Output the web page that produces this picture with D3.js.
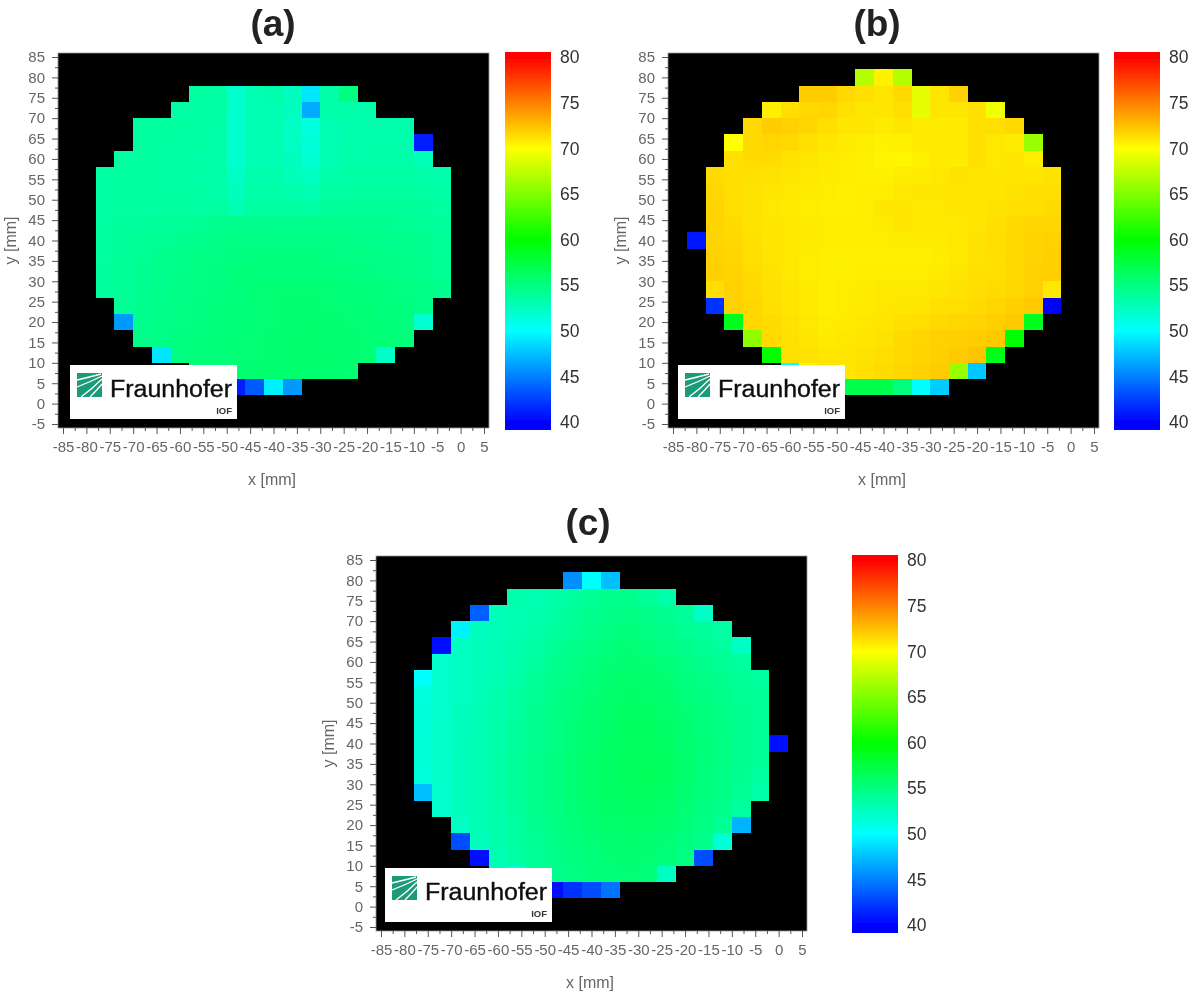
<!DOCTYPE html>
<html>
<head>
<meta charset="utf-8">
<script src="https://cdn.jsdelivr.net/npm/d3@7"></script>
<style>
  html, body { margin: 0; background: #fff; }
  text { font-family: "Liberation Sans", Arial, sans-serif; }
</style>
</head>
<body>
<div id="chart"></div>
<script>
// Cell centres in mm
const xCells = [-80, -76, -72, -68, -64, -60, -56, -52, -48, -44, -40, -36, -32, -28, -24, -20, -16, -12, -8, -4, 0];
const yCells = [80, 76, 72, 68, 64, 60, 56, 52, 48, 44, 40, 36, 32, 28, 24, 20, 16, 12, 8, 4];

const xTicks = [-85, -80, -75, -70, -65, -60, -55, -50, -45, -40, -35, -30, -25, -20, -15, -10, -5, 0, 5];
const yTicks = [85, 80, 75, 70, 65, 60, 55, 50, 45, 40, 35, 30, 25, 20, 15, 10, 5, 0, -5];
const barTicks = [80, 75, 70, 65, 60, 55, 50, 45, 40];

const colorStops = [40, 50, 60, 70, 80];
const colorNames = ["#0000ff", "#00ffff", "#00ff00", "#ffff00", "#ff0000"];

// Index in xCells of the first measured cell of each row (row order = yCells)
const startA = [0, 6, 5, 3, 3, 2, 1, 1, 1, 1, 1, 1, 1, 1, 2, 2, 3, 4, 6, 7];
const startB = [9, 6, 4, 3, 2, 2, 1, 1, 1, 1, 0, 1, 1, 1, 1, 2, 3, 4, 5, 7];
const startC = [9, 6, 4, 3, 2, 2, 1, 1, 1, 1, 1, 1, 1, 1, 2, 3, 3, 4, 5, 7];

const valuesA = [
  [],
  [53.8, 53.6, 52, 53, 53.2, 52.5, 49, 53.5, 55],
  [53.5, 53.6, 53.5, 52, 53, 53, 52.5, 46.7, 53.3, 53.4, 53.2],
  [53.8, 53.8, 53.7, 53.6, 53.5, 52, 53, 53, 52.3, 51.3, 53, 53.2, 53.2, 53.2, 53.2],
  [53.8, 53.8, 53.7, 53.6, 53.4, 52, 53, 53, 52.4, 51.5, 53, 53.2, 53.3, 53.3, 53.2, 41],
  [53.8, 53.8, 53.7, 53.6, 53.5, 53.4, 52, 53, 53, 52.5, 51.8, 53, 53.3, 53.4, 53.4, 53.4, 52.8],
  [53.7, 53.8, 53.8, 53.7, 53.6, 53.5, 53.4, 52.3, 53.2, 53.2, 52.8, 52.4, 53.3, 53.5, 53.6, 53.6, 53.6, 53.5, 53.3],
  [53.7, 53.8, 53.8, 53.8, 53.7, 53.6, 53.5, 52.6, 53.4, 53.4, 53.2, 53, 53.6, 53.8, 53.8, 53.8, 53.8, 53.7, 53.5],
  [53.7, 53.8, 53.8, 53.8, 53.8, 53.7, 53.7, 53, 53.8, 53.8, 53.7, 53.6, 53.9, 54, 54, 54, 54, 53.9, 53.7],
  [53.7, 53.9, 53.9, 54, 54, 54.2, 54.3, 54.4, 54.5, 54.4, 54.4, 54.5, 54.5, 54.4, 54.4, 54.3, 54.2, 54.1, 53.9],
  [53.8, 54, 54.1, 54.2, 54.4, 54.6, 54.7, 54.8, 54.9, 54.8, 54.8, 54.8, 54.8, 54.7, 54.6, 54.5, 54.4, 54.3, 54],
  [53.8, 54, 54.2, 54.4, 54.6, 54.8, 54.9, 55, 55.1, 55.1, 55.1, 55.1, 55, 54.9, 54.8, 54.7, 54.6, 54.4, 54.1],
  [53.9, 54.1, 54.3, 54.5, 54.7, 54.9, 55, 55.2, 55.3, 55.3, 55.3, 55.3, 55.2, 55.1, 55, 54.9, 54.7, 54.5, 54.2],
  [53.9, 54.1, 54.3, 54.5, 54.7, 54.9, 55, 55.2, 55.4, 55.5, 55.5, 55.5, 55.4, 55.3, 55.2, 55.1, 54.9, 54.7, 54.4],
  [54.2, 54.4, 54.6, 54.8, 55, 55.1, 55.3, 55.4, 55.5, 55.6, 55.6, 55.5, 55.4, 55.3, 55.1, 55, 54.8],
  [46, 54.5, 54.7, 54.9, 55, 55.2, 55.3, 55.4, 55.5, 55.6, 55.7, 55.6, 55.5, 55.4, 55.3, 55.1, 51.8],
  [54.6, 54.8, 55, 55.1, 55.3, 55.4, 55.5, 55.6, 55.7, 55.7, 55.6, 55.6, 55.5, 55.4, 55.2],
  [49, 55, 55.2, 55.3, 55.4, 55.5, 55.6, 55.7, 55.7, 55.7, 55.6, 55.5, 52.2],
  [55.3, 55.4, 55.5, 55.6, 55.7, 55.7, 55.7, 55.7, 55.5],
  [41, 41, 43.5, 49.5, 46]
];

const valuesB = [
  [67, 70.5, 67],
  [72, 72, 71.5, 71.3, 71, 71.5, 69, 71, 71.8],
  [70.6, 71.3, 71.5, 71.6, 71.2, 71, 71, 71.3, 69, 71, 71, 71.2, 69.5],
  [71.5, 72, 71.8, 71.6, 71.3, 71, 71, 70.8, 71, 70.8, 70.8, 70.8, 71.2, 71.3, 71.5],
  [70, 71.5, 71.6, 71.5, 71.2, 71, 70.8, 70.7, 70.5, 70.6, 70.8, 70.8, 70.8, 71.2, 70.9, 70.8, 66],
  [71.2, 71.4, 71.4, 71.1, 71, 70.8, 70.7, 70.6, 70.4, 70.4, 70.6, 70.8, 70.8, 71.2, 70.9, 71, 70.7],
  [71.4, 71.3, 71.2, 71.1, 71, 70.9, 70.8, 70.7, 70.6, 70.5, 70.7, 70.8, 70.9, 71.1, 71, 71, 71, 71, 71.1],
  [71.6, 71.3, 71.1, 71, 70.9, 70.8, 70.7, 70.6, 70.7, 70.7, 70.9, 71, 71, 71, 71, 71, 71.1, 71.2, 71.3],
  [71.7, 71.3, 71.1, 70.9, 70.8, 70.7, 70.6, 70.6, 70.7, 71, 71, 70.9, 70.9, 71, 71, 71.1, 71.2, 71.3, 71.4],
  [71.7, 71.4, 71.1, 71, 70.9, 70.8, 70.7, 70.7, 70.7, 70.8, 71, 70.9, 70.9, 70.9, 71, 71.2, 71.4, 71.6, 71.6],
  [40.7, 71.7, 71.5, 71.2, 71, 70.9, 70.8, 70.7, 70.7, 70.7, 70.7, 70.8, 70.8, 70.8, 70.9, 71.1, 71.3, 71.5, 71.7, 71.8],
  [71.8, 71.6, 71.3, 71, 70.9, 70.7, 70.6, 70.6, 70.6, 70.6, 70.6, 70.6, 70.7, 70.9, 71.1, 71.2, 71.5, 71.7, 71.9],
  [71.9, 71.7, 71.4, 71.1, 70.9, 70.7, 70.6, 70.6, 70.7, 70.7, 70.7, 70.7, 70.8, 71, 71.2, 71.3, 71.5, 71.8, 71.9],
  [71.3, 71.8, 71.5, 71.2, 71, 70.8, 70.6, 70.7, 70.8, 70.9, 70.9, 70.9, 71, 71.1, 71.3, 71.4, 71.6, 71.8, 70.9],
  [42, 71.8, 71.6, 71.2, 71, 70.8, 70.6, 70.7, 70.8, 70.9, 71, 71, 71.2, 71.3, 71.4, 71.6, 71.9, 72.1, 40.2],
  [59, 71.6, 71.4, 71.1, 70.9, 70.7, 70.8, 70.9, 71, 71.2, 71.3, 71.5, 71.6, 71.7, 71.9, 72.1, 59],
  [65.6, 71.4, 71.2, 71, 70.8, 70.9, 71, 71.1, 71.4, 71.6, 71.8, 71.9, 72, 72.1, 60],
  [60, 71.2, 71.1, 71, 71, 71.1, 71.3, 71.5, 71.7, 71.9, 72.1, 72.3, 59.3],
  [50, 70.5, 71, 71, 71.2, 71.4, 71.6, 71.8, 72, 66, 47.8],
  [57, 57, 57, 57, 55, 50, 48]
];

const valuesC = [
  [45.6, 50, 47.5],
  [53.3, 53, 53.4, 53.8, 54.2, 54.5, 54.6, 54, 53.3],
  [43.8, 52.8, 53, 53.2, 53.6, 54, 54.4, 54.7, 54.9, 54.6, 54.3, 54, 52.2],
  [49.5, 52.5, 52.8, 53, 53.3, 53.8, 54.2, 54.6, 54.9, 55.1, 54.9, 54.6, 54.2, 53.9, 53.6],
  [40.5, 52.4, 52.6, 52.9, 53.2, 53.6, 54.1, 54.5, 54.9, 55.2, 55.4, 55.2, 54.9, 54.6, 54.2, 53.8, 52.2],
  [52, 52.4, 52.6, 52.9, 53.3, 53.8, 54.3, 54.7, 55.1, 55.4, 55.6, 55.5, 55.2, 54.9, 54.5, 54.1, 53.7],
  [50, 52, 52.4, 52.7, 53, 53.5, 54, 54.5, 54.9, 55.3, 55.6, 55.8, 55.7, 55.5, 55.1, 54.8, 54.4, 54, 53.8],
  [51.3, 52, 52.4, 52.8, 53.2, 53.7, 54.2, 54.7, 55.1, 55.5, 55.8, 56, 55.9, 55.7, 55.3, 55, 54.6, 54.2, 54],
  [51.5, 52, 52.5, 52.9, 53.3, 53.8, 54.3, 54.8, 55.2, 55.6, 55.9, 56.1, 56.1, 55.8, 55.5, 55.1, 54.7, 54.3, 54],
  [51.5, 52.1, 52.5, 52.9, 53.4, 53.9, 54.4, 54.9, 55.3, 55.7, 56, 56.2, 56.2, 56, 55.6, 55.2, 54.8, 54.4, 54.1],
  [51.6, 52.1, 52.5, 53, 53.4, 53.9, 54.4, 54.9, 55.3, 55.7, 56.1, 56.3, 56.3, 56.1, 55.7, 55.3, 54.9, 54.4, 54.1, 40.5],
  [51.6, 52.1, 52.6, 53, 53.5, 54, 54.5, 55, 55.4, 55.8, 56.1, 56.4, 56.4, 56.2, 55.8, 55.3, 54.9, 54.4, 54],
  [51.4, 52.1, 52.6, 53, 53.5, 54, 54.5, 55, 55.4, 55.8, 56.1, 56.4, 56.5, 56.2, 55.8, 55.3, 54.8, 54.3, 53.8],
  [47.5, 52, 52.5, 53, 53.5, 54, 54.5, 55, 55.4, 55.8, 56.1, 56.3, 56.3, 56.1, 55.7, 55.2, 54.7, 54.2, 53.4],
  [52, 52.5, 53, 53.4, 53.9, 54.4, 54.9, 55.3, 55.7, 56, 56.1, 56.1, 55.9, 55.5, 55, 54.5, 53.7],
  [52.3, 52.9, 53.3, 53.8, 54.3, 54.8, 55.2, 55.6, 55.8, 55.9, 55.9, 55.7, 55.3, 54.8, 54.2, 47],
  [43, 52.6, 53.2, 53.7, 54.2, 54.7, 55.1, 55.4, 55.6, 55.7, 55.6, 55.4, 55, 54.5, 51.6],
  [40.5, 53, 53.6, 54.1, 54.6, 55, 55.3, 55.5, 55.6, 55.5, 55.3, 54.9, 43],
  [52.5, 51, 54, 54.5, 54.9, 55.2, 55.3, 55.4, 55.3, 52.2],
  [40.5, 40.5, 42, 43, 44.5]
];

const svgWidth = 1200, svgHeight = 998;
const plotWidth = 431, plotHeight = 375;

const svg = d3.select("#chart").append("svg")
    .attr("width", svgWidth)
    .attr("height", svgHeight)
    .style("display", "block");

// the source is a low resolution scan, so everything is slightly soft
const defs = svg.append("defs");
defs.append("filter").attr("id", "soft")
    .attr("x", "-5%").attr("y", "-5%").attr("width", "110%").attr("height", "110%")
    .append("feGaussianBlur").attr("stdDeviation", 0.7);

const color = d3.scaleLinear().domain(colorStops).range(colorNames);

const x = d3.scaleLinear().domain([-85, 5]).range([5, 426]);
const y = d3.scaleLinear().domain([85, -5]).range([4, 371]);
const barY = d3.scaleLinear().domain([40, 80]).range([369, 4]);

defs.append("linearGradient").attr("id", "barGradient")
    .attr("gradientUnits", "userSpaceOnUse")
    .attr("x1", 0).attr("x2", 0)
    .attr("y1", barY(40)).attr("y2", barY(80))
    .selectAll("stop")
    .data(colorStops)
    .join("stop")
    .attr("offset", d => (d - 40) / 40)
    .attr("stop-color", d => color(d));

function drawPanel(p) {
    const g = svg.append("g").attr("transform", `translate(${p.left}, ${p.top})`);

    // Title
    svg.append("text")
        .attr("x", p.titleX)
        .attr("y", p.titleY)
        .attr("text-anchor", "middle")
        .attr("font-size", 37)
        .attr("font-weight", "bold")
        .attr("fill", "#222")
        .attr("filter", "url(#soft)")
        .text(p.title);

    // Black background and the measured cells
    const soft = g.append("g").attr("filter", "url(#soft)");
    soft.append("rect")
        .attr("width", plotWidth)
        .attr("height", plotHeight)
        .attr("fill", "#000")
        .attr("stroke", "#999")
        .attr("stroke-width", 0.8);

    const cells = p.values.flatMap((row, r) =>
        row.map((v, i) => ({ cx: xCells[p.start[r] + i], cy: yCells[r], v })));

    soft.selectAll("rect.cell")
        .data(cells)
        .join("rect")
        .attr("class", "cell")
        .attr("x", d => x(d.cx - 2))
        .attr("y", d => y(d.cy + 2))
        .attr("width", d => x(d.cx + 2) - x(d.cx - 2))
        .attr("height", d => y(d.cy - 2) - y(d.cy + 2))
        .attr("fill", d => color(d.v))
        .attr("shape-rendering", "crispEdges");

    // Axes: major ticks with labels, minor ticks half way between
    const xMinor = xTicks.slice(1).map(d => d - 2.5);
    const yMinor = yTicks.slice(1).map(d => d + 2.5);

    const axes = g.append("g").attr("filter", "url(#soft)");
    const bottom = axes.append("g").attr("transform", `translate(0, ${plotHeight})`);
    bottom.append("g").call(d3.axisBottom(x).tickValues(xMinor).tickSize(3).tickFormat(""));
    bottom.append("g").call(d3.axisBottom(x).tickValues(xTicks).tickSize(6).tickPadding(7).tickFormat(d => String(d)));

    const left = axes.append("g");
    left.append("g").call(d3.axisLeft(y).tickValues(yMinor).tickSize(3).tickFormat(""));
    left.append("g").call(d3.axisLeft(y).tickValues(yTicks).tickSize(6).tickPadding(7).tickFormat(d => String(d)));

    axes.selectAll(".domain").remove();
    axes.selectAll(".tick line").attr("stroke", "#555");
    axes.selectAll(".tick text")
        .attr("fill", "#666")
        .style("font-size", "15px")
        .style("font-family", '"Liberation Sans", Arial, sans-serif');

    // Axis labels
    axes.append("text")
        .attr("x", 214)
        .attr("y", plotHeight + 57)
        .attr("text-anchor", "middle")
        .attr("font-size", 16)
        .attr("fill", "#666")
        .text("x [mm]");

    axes.append("text")
        .attr("transform", `translate(-42, ${y(40)}) rotate(-90)`)
        .attr("text-anchor", "middle")
        .attr("font-size", 16)
        .attr("fill", "#666")
        .text("y [mm]");

    // Colour bar
    const bar = svg.append("g")
        .attr("transform", `translate(${p.barLeft}, ${p.top})`)
        .attr("filter", "url(#soft)");

    bar.append("rect")
        .attr("y", barY(80) - 5)
        .attr("width", 46)
        .attr("height", barY(40) - barY(80) + 13)
        .attr("fill", "url(#barGradient)");

    bar.selectAll("text")
        .data(barTicks)
        .join("text")
        .attr("x", 55)
        .attr("y", d => barY(d))
        .attr("dy", "0.36em")
        .attr("font-size", 17.5)
        .attr("fill", "#333")
        .text(d => d);

    drawLogo(g, p.logoLeft);
}

// Institute logo pasted over the lower left of each map
function drawLogo(g, logoLeft) {
    const logo = g.append("g").attr("transform", `translate(${logoLeft}, 312)`).attr("filter", "url(#soft)");
    logo.append("rect").attr("width", 167).attr("height", 54).attr("fill", "#fff");
    logo.append("rect").attr("x", 7).attr("y", 8).attr("width", 25).attr("height", 24).attr("fill", "#1f9b78");
    logo.append("path")
        .attr("d", "M7 15 Q20 12 31 9 M7 22 Q20 17 32 11 M11 32 Q22 24 32 14 M20 32 Q27 25 32 19")
        .attr("fill", "none")
        .attr("stroke", "#fff")
        .attr("stroke-width", 1.3);
    logo.append("text")
        .attr("x", 40).attr("y", 32)
        .attr("font-size", 23)
        .attr("textLength", 122)
        .attr("lengthAdjust", "spacingAndGlyphs")
        .attr("fill", "#111")
        .attr("stroke", "#111")
        .attr("stroke-width", 0.4)
        .text("Fraunhofer");
    logo.append("text")
        .attr("x", 162).attr("y", 49)
        .attr("text-anchor", "end")
        .attr("font-size", 9.5)
        .attr("font-weight", "bold")
        .attr("fill", "#333")
        .text("IOF");
}

drawPanel({ title: "(a)", titleX: 273, titleY: 36, left: 58, top: 53, barLeft: 505, logoLeft: 12, start: startA, values: valuesA });
drawPanel({ title: "(b)", titleX: 877, titleY: 36, left: 668, top: 53, barLeft: 1114, logoLeft: 10, start: startB, values: valuesB });
drawPanel({ title: "(c)", titleX: 588, titleY: 535, left: 376, top: 556, barLeft: 852, logoLeft: 9, start: startC, values: valuesC });
</script>
</body>
</html>
